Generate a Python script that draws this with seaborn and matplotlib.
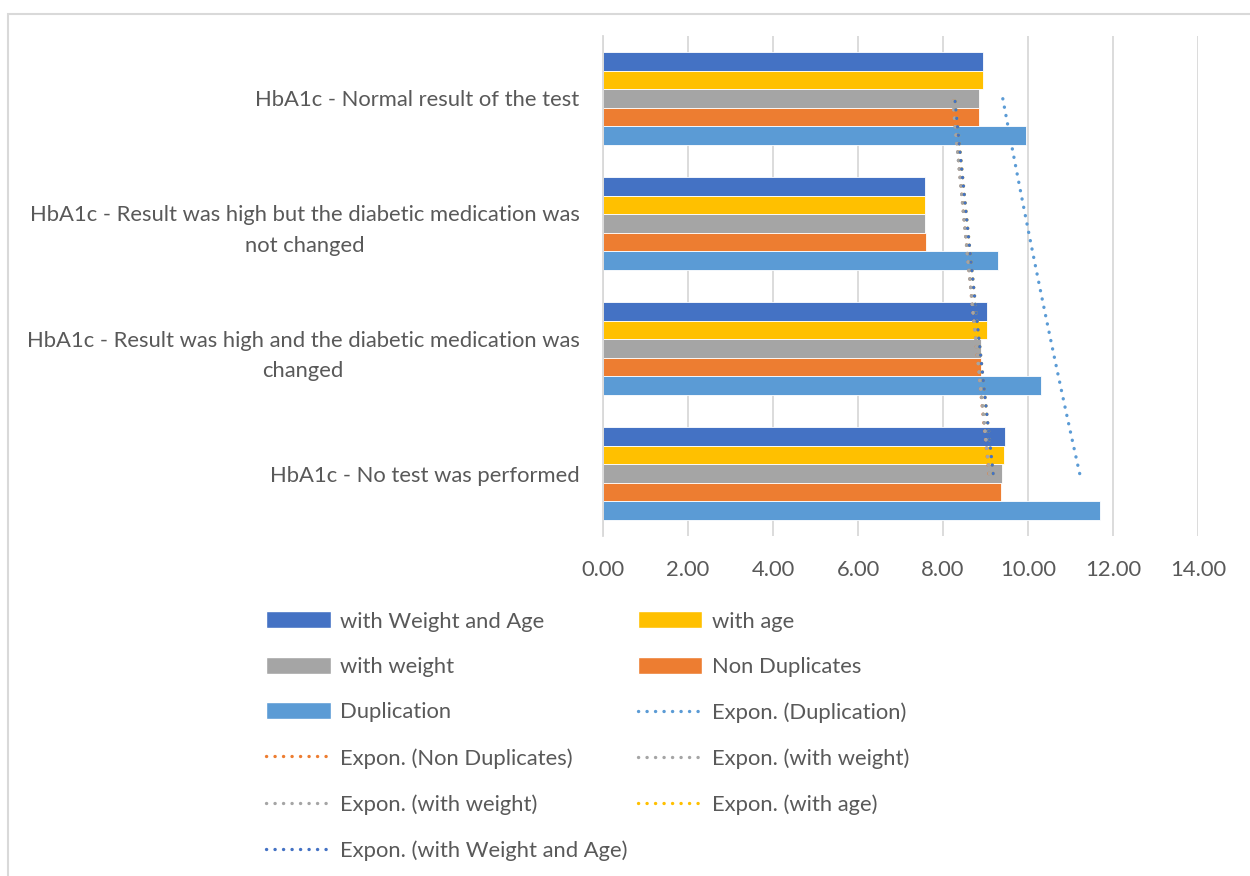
import numpy as np
import pandas as pd
import matplotlib
matplotlib.use("Agg")
import matplotlib.pyplot as plt
from matplotlib.lines import Line2D
from matplotlib.patches import Patch, Rectangle
import seaborn as sns

# Categories, listed top to bottom as they appear on the chart
categories = [
    "HbA1c - Normal result of the test",
    "HbA1c - Result was high but the diabetic medication was\nnot changed",
    "HbA1c - Result was high and the diabetic medication was\nchanged",
    "HbA1c - No test was performed",
]

with_weight_and_age = [8.93, 7.58, 9.03, 9.45]
with_age = [8.93, 7.58, 9.04, 9.44]
with_weight = [8.85, 7.58, 8.89, 9.38]
non_duplicates = [8.85, 7.59, 8.89, 9.36]
duplication = [9.95, 9.29, 10.30, 11.69]

series_names = ["with Weight and Age", "with age", "with weight",
                "Non Duplicates", "Duplication"]
series_values = [with_weight_and_age, with_age, with_weight,
                 non_duplicates, duplication]
series_colors = ["#4472C4", "#FFC000", "#A5A5A5", "#ED7D31", "#5B9BD5"]

x_ticks = [0, 2, 4, 6, 8, 10, 12, 14]

TEXT = "#595959"
GRID = "#D9D9D9"
FS = 15.8

sns.set_theme(style="white")
plt.rcParams["font.family"] = ["Lato", "DejaVu Sans"]

df = pd.DataFrame({
    "category": np.tile(categories, len(series_names)),
    "series": np.repeat(series_names, len(categories)),
    "value": np.concatenate(series_values),
})

fig = plt.figure(figsize=(12.5, 8.76), dpi=100)
ax = fig.add_axes([0.4824, 0.388, 0.476, 0.571])

sns.barplot(data=df, y="category", x="value", hue="series",
            order=categories, hue_order=series_names,
            palette=series_colors, orient="h", width=0.74,
            edgecolor="white", linewidth=0.6, ax=ax, legend=False,
            errorbar=None, saturation=1)

# Exponential trendlines: fitted over category index 1..4 (bottom to top)
k = np.arange(1, len(categories) + 1)
kk = np.linspace(1, len(categories), 60)
yy = len(categories) - kk

DOTS = (0, (0.05, 2.5))
trend_specs = [
    ("Expon. (Duplication)", duplication, "#5B9BD5"),
    ("Expon. (Non Duplicates)", non_duplicates, "#ED7D31"),
    ("Expon. (with weight)", with_weight, "#A5A5A5"),
    ("Expon. (with weight)", with_weight, "#A5A5A5"),
    ("Expon. (with age)", with_age, "#FFC000"),
    ("Expon. (with Weight and Age)", with_weight_and_age, "#4472C4"),
]
trend_handles = []
for name, vals, col in trend_specs:
    # values run top-to-bottom in the lists; the fit runs bottom-to-top
    v = np.array(vals[::-1])
    b, a = np.polyfit(k, np.log(v), 1)
    fit = np.exp(a + b * kk)
    ax.plot(fit, yy, color=col, lw=2.4, linestyle=DOTS,
            dash_capstyle="round", zorder=5)
    trend_handles.append(Line2D([0], [0], color=col, lw=2.4, linestyle=DOTS,
                                dash_capstyle="round", label=name))

ax.set_xlim(0, 14)
ax.set_ylim(3.5, -0.5)
ax.set_xticks(x_ticks)
ax.set_xticklabels([f"{t:.2f}" for t in x_ticks])
ax.set_xlabel("")
ax.set_ylabel("")
ax.grid(axis="x", color=GRID, lw=1.3)
ax.set_axisbelow(True)
for s in ["top", "right", "bottom"]:
    ax.spines[s].set_visible(False)
ax.spines["left"].set_color(GRID)
ax.spines["left"].set_linewidth(1.3)
ax.tick_params(axis="x", length=0, pad=17, labelsize=FS, labelcolor=TEXT)
ax.tick_params(axis="y", length=0, pad=17, labelsize=FS, labelcolor=TEXT)
for lab in ax.get_yticklabels():
    lab.set_multialignment("center")
    lab.set_linespacing(1.65)

# Legend: two columns, entries read left-to-right in rows
bar_handles = [Patch(facecolor=c, label=n) for n, c in zip(series_names, series_colors)]
entries = bar_handles + trend_handles
ordered = entries[0::2] + entries[1::2]
leg = fig.legend(handles=ordered, labels=[h.get_label() for h in ordered],
                 ncol=2, loc="upper left", bbox_to_anchor=(0.199, 0.322),
                 frameon=False, fontsize=FS, labelcolor=TEXT,
                 handlelength=2.95, handleheight=0.8, handletextpad=0.42,
                 columnspacing=0.45, labelspacing=1.16, borderpad=0.3)

# Chart frame
fig.patches.append(Rectangle((0.0065, -0.01), 1.2, 1.002 - 0.0065 - 0.0015,
                             transform=fig.transFigure, fill=False,
                             edgecolor=GRID, lw=1.5))

fig.savefig("out.png", dpi=100)
